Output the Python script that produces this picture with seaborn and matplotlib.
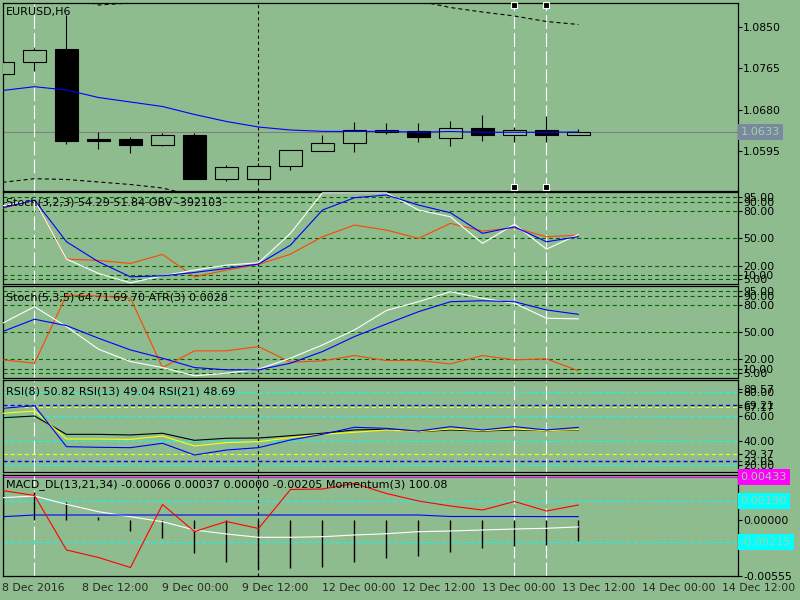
import numpy as np
import matplotlib
matplotlib.use('Agg')
import matplotlib.pyplot as plt
import seaborn as sns

# --- Configuration ---
BG = '#8fbc8f'
LEVEL_GREEN = '#006400'
BOX_TEXT = '#a3d2a3'
FS = 7.8

sns.set_style('white')
plt.rcParams['font.family'] = ['DejaVu Sans']
plt.rcParams['font.size'] = FS
plt.rcParams['lines.scale_dashes'] = False

# --- Data (EURUSD H6, 19 bars) ---
bars = np.arange(19)
price_open = [1.07528, 1.07776, 1.08051, 1.06184, 1.06184, 1.06072, 1.06267, 1.05369, 1.05357, 1.05625,
              1.05936, 1.06101, 1.06341, 1.06349, 1.06205, 1.06418, 1.06267, 1.06370, 1.06267]
price_close = [1.07776, 1.08024, 1.06155, 1.06155, 1.06072, 1.06267, 1.05369, 1.05605, 1.05625, 1.05956,
               1.06101, 1.06370, 1.06370, 1.06225, 1.06411, 1.06267, 1.06370, 1.06267, 1.06330]
price_high = [1.07824, 1.08066, 1.08754, 1.06329, 1.06225, 1.06308, 1.06308, 1.05652, 1.05694, 1.05956,
              1.06273, 1.06535, 1.06515, 1.06515, 1.06556, 1.06686, 1.06444, 1.06659, 1.06397]
price_low = [1.07493, 1.07602, 1.06080, 1.05977, 1.05907, 1.06051, 1.05369, 1.05321, 1.05301, 1.05549,
             1.05936, 1.05927, 1.06300, 1.06134, 1.06051, 1.06155, 1.06134, 1.06134, 1.06267]
ma_line = [1.07193, 1.07272, 1.07203, 1.07048, 1.06955, 1.06862, 1.06697, 1.06552, 1.06438, 1.06376,
           1.06349, 1.06345, 1.06349, 1.06329, 1.06345, 1.06329, 1.06329, 1.06329, 1.06335]
band_upper = [1.09127, 1.09189, 1.09147, 1.08961, 1.09003, 1.09230, 1.09375, 1.09478, 1.09520, 1.09478,
              1.09375, 1.09230, 1.09127, 1.09044, 1.08909, 1.08816, 1.08734, 1.08620, 1.08558]
band_lower = [1.05295, 1.05369, 1.05353, 1.05301, 1.05249, 1.05177, 1.05011, 1.04825, 1.04722, 1.04680,
              1.04722, 1.04825, 1.04929, 1.04970, 1.05011, 1.05011, 1.05032, 1.05032, 1.05032]
bid_price = 1.0633
price_ticks = [1.0595, 1.0680, 1.0765, 1.0850]

stoch1_main = [85.8, 92.1, 27.3, 11.5, 1.2, 8.9, 15.2, 20.7, 23.2, 55.5,
               100.0, 100.0, 100.0, 81.1, 73.7, 44.5, 65.4, 38.2, 54.29]
stoch1_signal = [83.6, 92.1, 46.3, 24.3, 7.8, 8.9, 12.6, 17.0, 21.8, 42.6,
                 81.1, 94.6, 97.6, 86.6, 78.1, 55.5, 62.7, 46.3, 51.84]
obv_scaled = [83.0, 92.1, 27.3, 25.8, 22.5, 32.4, 7.8, 15.2, 21.4, 32.7,
              51.8, 64.6, 59.1, 50.0, 66.5, 58.0, 61.6, 51.8, 53.6]

stoch2_main = [59.9, 78.1, 56.2, 31.3, 17.7, 11.1, 2.0, 4.9, 9.3, 21.4,
               36.0, 52.5, 74.0, 83.6, 94.6, 87.4, 81.9, 65.4, 64.71]
stoch2_signal = [50.7, 64.3, 57.3, 43.4, 30.5, 21.4, 11.1, 8.6, 8.6, 15.9,
                 28.7, 45.2, 59.1, 72.6, 83.6, 84.7, 83.6, 74.5, 69.70]
atr_scaled = [19.6, 15.9, 91.0, 89.9, 87.4, 11.1, 29.5, 29.5, 34.2, 17.0,
              18.5, 24.3, 18.8, 18.8, 15.2, 24.3, 19.6, 20.7, 7.5]
stoch_levels = [95, 90, 80, 50, 20, 10, 5]

rsi8 = [66.4, 68.5, 35.0, 34.5, 34.2, 37.8, 28.2, 32.3, 34.2, 40.5,
        45.1, 50.9, 50.0, 47.8, 51.4, 48.7, 51.4, 48.7, 50.82]
rsi13 = [62.3, 64.2, 41.3, 41.3, 41.0, 43.7, 35.6, 38.3, 39.1, 42.4,
         45.1, 46.8, 48.7, 47.3, 49.5, 48.1, 49.5, 48.1, 49.04]
rsi21 = [58.7, 60.1, 45.1, 45.1, 44.6, 46.0, 40.2, 41.9, 42.1, 44.0,
         46.0, 48.7, 49.2, 47.3, 48.7, 47.8, 48.7, 48.1, 48.69]
rsi_cyan_levels = [80, 60, 40, 20]
rsi_blue_levels = [69.21, 23.05]
rsi_yellow_levels = [67.17, 29.37]
rsi_ticks = [82.3, 80, 69.21, 67.17, 60, 40, 29.37, 23.05, 20]
rsi_tick_labels = ['89.57', '80.00', '69.21', '67.17', '60.00', '40.00', '29.37', '23.05', '20.00']

macd_hist = [0.00300, 0.00280, 0.00186, 0.00030, -0.00104, -0.00174, -0.00324, -0.00414, -0.00487, -0.00480,
             -0.00464, -0.00414, -0.00374, -0.00354, -0.00314, -0.00280, -0.00254, -0.00247, -0.00205]
macd_main = [0.00226, 0.00243, 0.00160, 0.00086, 0.00036, -0.00014, -0.00097, -0.00137, -0.00170, -0.00170,
             -0.00164, -0.00147, -0.00134, -0.00114, -0.00107, -0.00097, -0.00087, -0.00080, -0.00066]
macd_signal = [0.00036, 0.00053, 0.00053, 0.00053, 0.00053, 0.00053, 0.00053, 0.00053, 0.00053, 0.00053,
               0.00053, 0.00053, 0.00053, 0.00053, 0.00038, 0.00038, 0.00038, 0.00037, 0.00037]
momentum = [100.37, 100.27, 99.18, 99.03, 98.83, 100.09, 99.55, 99.75, 99.61, 100.39,
            100.40, 100.51, 100.31, 100.16, 100.06, 99.98, 100.15, 99.96, 100.08]
macd_cyan_levels = [0.00190, -0.00215]
macd_magenta_level = 0.00433

xtick_pos = [0, 2.5, 5, 7.5, 10, 12.5, 15, 17.5, 20, 22.5]
xtick_labels = ['8 Dec 2016', '8 Dec 12:00', '9 Dec 00:00', '9 Dec 12:00', '12 Dec 00:00',
                '12 Dec 12:00', '13 Dec 00:00', '13 Dec 12:00', '14 Dec 00:00', '14 Dec 12:00']

vline_bars = [1, 8, 16, 17]
vline_colors = ['white', 'black', 'white', 'white']
vline_dashes = [(10, 3), (2.2, 2.2), (10, 3), (10, 3)]

# --- Layout (pixel rows of the five sub-windows) ---
W, H = 800, 600
fig = plt.figure(figsize=(8, 6), dpi=100, facecolor=BG)


def style_right_ticks(ax):
    ax.yaxis.tick_right()
    ax.tick_params(axis='y', direction='out', length=3, width=0.8, pad=1,
                   labelsize=FS, colors='black', left=False, labelleft=False,
                   right=True, labelright=True)


def panel(top, bottom):
    ax = fig.add_axes([2.5 / W, 1 - bottom / H, 735 / W, (bottom - top) / H])
    ax.set_facecolor(BG)
    for sp in ax.spines.values():
        sp.set_color('black')
        sp.set_linewidth(0.9)
    ax.set_xlim(0, 22.97)
    style_right_ticks(ax)
    ax.set_xticks([])
    return ax


ax1 = panel(2.5, 190.5)
ax2 = panel(192, 284.3)
ax3 = panel(286, 378)
ax4 = panel(380, 472)
ax5 = panel(474.5, 576)
axes = [ax1, ax2, ax3, ax4, ax5]

for ax in axes:
    for b, c, d in zip(vline_bars, vline_colors, vline_dashes):
        ax.axvline(b, color=c, lw=0.8, linestyle=(0, d), zorder=1.5)


def line(ax, values, color, z=3):
    sns.lineplot(x=bars, y=values, ax=ax, color=color, linewidth=0.8, zorder=z)
    ax.set_xlabel('')
    ax.set_ylabel('')


# --- Price window ---
ax1.axhline(bid_price, color='#808080', lw=0.8, zorder=1)
line(ax1, band_upper, 'black', 2)
line(ax1, band_lower, 'black', 2)
for l in ax1.lines[-2:]:
    l.set_linestyle((0, (2.9, 2.2)))
is_up = [c >= o for o, c in zip(price_open, price_close)]
body_bottom = [min(o, c) for o, c in zip(price_open, price_close)]
body_height = [abs(c - o) for o, c in zip(price_open, price_close)]
ax1.vlines(bars, price_low, price_high, color='black', lw=0.8, zorder=2.5)
ax1.bar(bars, body_height, bottom=body_bottom, width=0.69,
        color=[BG if u else 'black' for u in is_up], edgecolor='black', linewidth=0.8, zorder=3)
line(ax1, ma_line, '#0000ff', 4)
ax1.set_ylim(1.05125, 1.09013)
ax1.set_yticks(price_ticks, [f'{t:.4f}' for t in price_ticks])
ax1.scatter([16, 17, 16, 17], [0.985, 0.985, 0.018, 0.018], transform=ax1.get_xaxis_transform(),
            marker='s', s=14, c='black', edgecolors='white', linewidths=0.8, zorder=6, clip_on=False)
ax1.text(1.004, bid_price, f'{bid_price:.4f}', transform=ax1.get_yaxis_transform(), va='center',
         ha='left', color=BOX_TEXT, fontsize=8.1, clip_on=False,
         bbox=dict(facecolor='#7a88a0', edgecolor='none', pad=2.0))

# --- Stochastic windows ---
for ax, main, sig, extra in [(ax2, stoch1_main, stoch1_signal, obv_scaled),
                             (ax3, stoch2_main, stoch2_signal, atr_scaled)]:
    for lv in stoch_levels:
        ax.axhline(lv, color=LEVEL_GREEN, lw=0.8, linestyle=(0, (2.9, 2.2)), zorder=1)
    line(ax, extra, '#ff4500')
    line(ax, main, 'white')
    line(ax, sig, '#0000ff')
    ax.set_ylim(-0.4, 100.9)
    ax.set_yticks(stoch_levels, [f'{v:.2f}' for v in stoch_levels])

# --- RSI window ---
for lv in rsi_cyan_levels:
    ax4.axhline(lv, color='#00ffff', lw=0.8, linestyle=(0, (2.9, 2.2)), zorder=1)
for lv in rsi_blue_levels:
    ax4.axhline(lv, color='#0000ff', lw=1.0, linestyle=(0, (2.9, 2.2)), zorder=1)
for lv in rsi_yellow_levels:
    ax4.axhline(lv, color='#ffff00', lw=0.8, linestyle=(0, (2.9, 2.2)), zorder=1)
line(ax4, rsi21, 'black')
line(ax4, rsi13, '#ffff00')
line(ax4, rsi8, '#0000ff')
ax4.set_ylim(14.29, 89.57)
ax4.set_yticks(rsi_ticks, rsi_tick_labels)

# --- MACD + Momentum window ---
ax5m = ax5.twinx()
style_right_ticks(ax5)

ax5.axhline(macd_magenta_level, color='#ff00ff', lw=0.8, zorder=1)
for lv in macd_cyan_levels:
    ax5.axhline(lv, color='#00ffff', lw=0.8, linestyle=(0, (2.9, 2.2)), zorder=1)
ax5.vlines(bars, 0, macd_hist, color='black', lw=1.0, zorder=2)
line(ax5, macd_main, 'white')
line(ax5, macd_signal, '#0000ff')
ax5.set_ylim(-0.00557, 0.00458)
ax5.set_yticks([0.00431, 0.0, -0.00555], ['0.00431', '0.00000', '-0.00555'])

line(ax5m, momentum, '#ff0000')
ax5m.set_ylim(98.66, 100.69)
ax5m.set_yticks([])
ax5m.tick_params(axis='both', left=False, right=False, labelleft=False, labelright=False)
for sp in ax5m.spines.values():
    sp.set_visible(False)
ax5m.set_xlim(0, 22.97)

box_levels = [macd_magenta_level] + macd_cyan_levels
box_colors = ['#ff00ff', '#00ffff', '#00ffff']
for lv, bc in zip(box_levels, box_colors):
    ax5m.text(1.004, (lv + 0.00557) / (0.00458 + 0.00557), f'{lv:.5f}', transform=ax5m.transAxes,
              va='center', ha='left', color=BOX_TEXT, fontsize=8.1, clip_on=False, zorder=5,
              bbox=dict(facecolor=bc, edgecolor='none', pad=2.0))

ax5.set_xticks(xtick_pos, xtick_labels)
ax5.tick_params(axis='x', direction='out', length=3, width=0.8, pad=2, labelsize=FS)
for lbl in ax5.get_xticklabels():
    lbl.set_horizontalalignment('left')

# --- Window captions ---
captions = [(11.5, 'EURUSD,H6'),
            (202.5, 'Stoch(3,2,3) 54.29 51.84 OBV -392103'),
            (297, 'Stoch(5,3,5) 64.71 69.70 ATR(3) 0.0028'),
            (391.5, 'RSI(8) 50.82 RSI(13) 49.04 RSI(21) 48.69'),
            (485, 'MACD_DL(13,21,34) -0.00066 0.00037 0.00000 -0.00205 Momentum(3) 100.08')]
for y, txt in captions:
    fig.text(6 / W, 1 - y / H, txt, ha='left', va='center', fontsize=8.0, color='black', zorder=10)

fig.savefig('out.png', dpi=100, facecolor=BG)
